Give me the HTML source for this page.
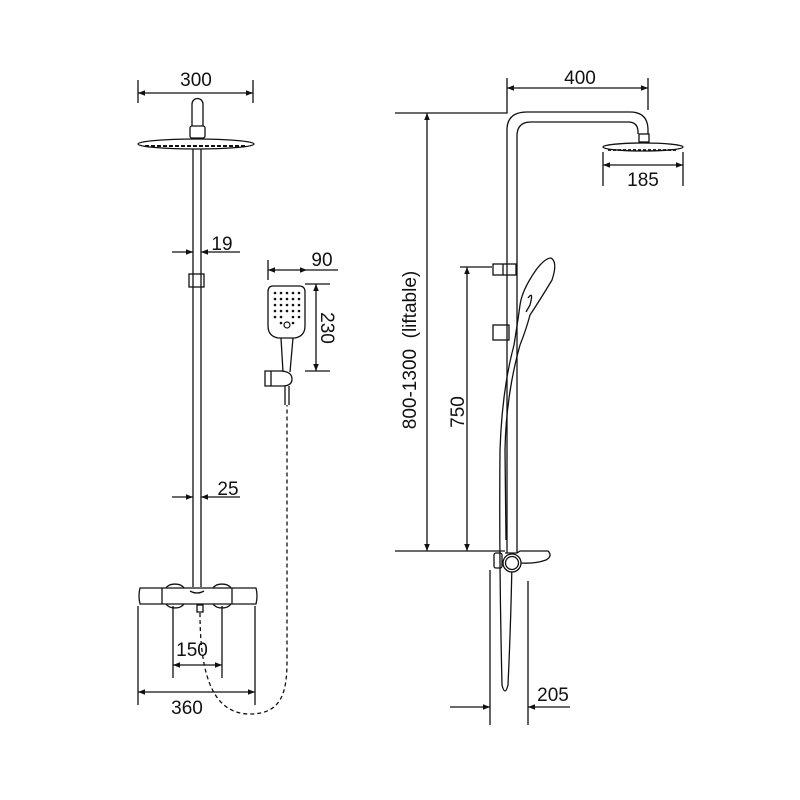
<!DOCTYPE html>
<html><head><meta charset="utf-8"><style>
html,body{margin:0;padding:0;background:#fff}
svg{display:block}
text{font-family:"Liberation Sans",sans-serif;font-size:19px;fill:#111}
</style></head><body>
<svg width="800" height="800" viewBox="0 0 800 800" xmlns="http://www.w3.org/2000/svg">
<defs>
<marker id="a" viewBox="0 0 10 10" refX="10" refY="5" markerWidth="9" markerHeight="7" orient="auto-start-reverse" markerUnits="userSpaceOnUse"><path d="M0,1 L10,5 L0,9 z" fill="#111"/></marker>
</defs>
<g stroke="#111" stroke-width="1.3" fill="none">
<line x1="138" y1="80" x2="138" y2="103"/><line x1="253" y1="80" x2="253" y2="103"/>
<line x1="138" y1="93" x2="253" y2="93" marker-start="url(#a)" marker-end="url(#a)"/>
<path d="M192,126 V104 a5,5 0 0 1 11,0 V126"/>
<rect x="190" y="126" width="15" height="12" rx="2"/>
<ellipse cx="196" cy="144" rx="58" ry="5" fill="#fff"/>
<line x1="145" y1="146" x2="247" y2="146" stroke-dasharray="4,2" stroke-width="2"/>
<line x1="193" y1="149" x2="193" y2="587"/><line x1="201" y1="149" x2="201" y2="587"/>
<line x1="172" y1="252" x2="193" y2="252" marker-end="url(#a)"/>
<line x1="240" y1="252" x2="201" y2="252" marker-end="url(#a)"/>
<rect x="189" y="274" width="15" height="13"/>
<line x1="172" y1="497" x2="193" y2="497" marker-end="url(#a)"/>
<line x1="240" y1="497" x2="201" y2="497" marker-end="url(#a)"/>
<path d="M140,588 H256 Q258,596 256,604 H140 Q138,596 140,588 Z"/>
<line x1="162" y1="588" x2="162" y2="604"/><line x1="232" y1="588" x2="232" y2="604"/>
<path d="M166,588 a10,7 0 0 1 18,0 M166,604 a10,7 0 0 0 18,0 M213,588 a10,7 0 0 1 18,0 M213,604 a10,7 0 0 0 18,0"/>
<path d="M190,591 q7,4 14,0"/>
<rect x="197" y="605" width="6" height="7"/>
<line x1="138" y1="606" x2="138" y2="705"/><line x1="255" y1="606" x2="255" y2="705"/>
<line x1="173" y1="606" x2="173" y2="678"/><line x1="222" y1="606" x2="222" y2="678"/>
<line x1="173" y1="665" x2="222" y2="665" marker-start="url(#a)" marker-end="url(#a)"/>
<line x1="138" y1="692" x2="255" y2="692" marker-start="url(#a)" marker-end="url(#a)"/>
<path d="M200,613 C200,680 215,714 250,714 C283,714 287,690 287,660 V405" stroke-dasharray="4,3"/>
<line x1="268" y1="260" x2="268" y2="280"/>
<line x1="268" y1="270" x2="307" y2="270" marker-start="url(#a)" marker-end="url(#a)"/>
<line x1="307" y1="270" x2="338" y2="270"/>
<path d="M273,286 H299 Q305,286 305,292 V326 Q305,336 295,338 H278 Q268,336 268,326 V292 Q268,286 273,286 Z"/>
<path d="M281,338 L283,372 M293,338 L290,372"/>
<path d="M265,371 H282 Q292,372 292,379 Q292,386 282,386 H265 Z"/><line x1="271" y1="371" x2="271" y2="386"/>
<line x1="285" y1="386" x2="285" y2="405"/><line x1="289" y1="386" x2="289" y2="405"/>
<line x1="305" y1="284" x2="330" y2="284"/><line x1="305" y1="371" x2="330" y2="371"/>
<line x1="316" y1="284" x2="316" y2="371" marker-start="url(#a)" marker-end="url(#a)"/>
<path d="M395,113 H507 V78"/><line x1="395" y1="551" x2="505" y2="551"/>
<line x1="427" y1="113" x2="427" y2="551" marker-start="url(#a)" marker-end="url(#a)"/>
<line x1="460" y1="267" x2="492" y2="267"/>
<line x1="467" y1="267" x2="467" y2="551" marker-start="url(#a)" marker-end="url(#a)"/>
<line x1="648" y1="78" x2="648" y2="110"/>
<line x1="507" y1="88" x2="648" y2="88" marker-start="url(#a)" marker-end="url(#a)"/>
<path d="M507,553 V130 Q507,112 527,112 H630 Q648,112 648,130 V134"/>
<path d="M517,553 V136 Q517,122 531,122 H628 Q638,122 638,132 V134"/>
<rect x="639" y="134" width="10" height="8"/>
<ellipse cx="643" cy="147" rx="40" ry="4" fill="#fff"/>
<line x1="608" y1="150" x2="678" y2="150" stroke-dasharray="3,2" stroke-width="1.8"/>
<line x1="603" y1="152" x2="603" y2="186"/><line x1="683" y1="152" x2="683" y2="186"/>
<line x1="603" y1="165" x2="683" y2="165" marker-start="url(#a)" marker-end="url(#a)"/>
<rect x="493" y="264" width="23" height="11"/><line x1="503" y1="264" x2="503" y2="275"/>
<rect x="493" y="325" width="16" height="15"/>
<path d="M551,258 Q558,262 552,280 Q540,300 530,315 Q526,330 520,345 M551,258 Q545,258 536,270 Q522,290 520,305 Q518,320 514,345"/>
<path d="M528,298 Q534,290 530,305 L526,312"/>
<path d="M514,345 Q502,390 500,450 Q499,560 502,685 Q505,697 508,685 Q511,620 512,560 M520,345 Q506,395 505,450 L506,540"/>
<path d="M505,553 L517,553 L520,551 H548 Q553,556 546,560 Q535,564 520,563"/>
<circle cx="512" cy="563" r="9" fill="#fff"/><circle cx="512" cy="563" r="6.5"/>
<rect x="494" y="553" width="8" height="15" rx="2"/>
<line x1="490" y1="570" x2="490" y2="725"/><line x1="528" y1="581" x2="528" y2="725"/>
<line x1="450" y1="707" x2="490" y2="707" marker-end="url(#a)"/>
<line x1="570" y1="707" x2="528" y2="707" marker-end="url(#a)"/>
</g>
<g fill="#111" stroke="none">
<circle cx="275" cy="293" r="1.3"/><circle cx="281" cy="293" r="1.3"/><circle cx="287" cy="293" r="1.3"/><circle cx="293" cy="293" r="1.3"/><circle cx="299" cy="293" r="1.3"/>
<circle cx="275" cy="299" r="1.3"/><circle cx="281" cy="299" r="1.3"/><circle cx="287" cy="299" r="1.3"/><circle cx="293" cy="299" r="1.3"/><circle cx="299" cy="299" r="1.3"/>
<circle cx="275" cy="305" r="1.3"/><circle cx="281" cy="305" r="1.3"/><circle cx="287" cy="305" r="1.3"/><circle cx="293" cy="305" r="1.3"/><circle cx="299" cy="305" r="1.3"/>
<circle cx="275" cy="311" r="1.3"/><circle cx="281" cy="311" r="1.3"/><circle cx="287" cy="311" r="1.3"/><circle cx="293" cy="311" r="1.3"/><circle cx="299" cy="311" r="1.3"/>
<circle cx="275" cy="317" r="1.3"/><circle cx="281" cy="317" r="1.3"/><circle cx="293" cy="317" r="1.3"/><circle cx="299" cy="317" r="1.3"/>
<circle cx="281" cy="323" r="1.3"/><circle cx="293" cy="323" r="1.3"/>
</g>
<circle cx="287" cy="325" r="3" fill="none" stroke="#111" stroke-width="1.2"/>
<text x="196" y="86" text-anchor="middle">300</text>
<text x="222" y="250" text-anchor="middle">19</text>
<text x="228" y="495" text-anchor="middle">25</text>
<text x="192" y="656" text-anchor="middle">150</text>
<text x="187" y="714" text-anchor="middle">360</text>
<text x="322" y="266" text-anchor="middle">90</text>
<text transform="translate(321,328) rotate(90)" text-anchor="middle">230</text>
<text x="580" y="84" text-anchor="middle">400</text>
<text x="643" y="186" text-anchor="middle">185</text>
<text transform="translate(416,350) rotate(-90)" text-anchor="middle" xml:space="preserve">800-1300  (liftable)</text>
<text transform="translate(464,412) rotate(-90)" text-anchor="middle">750</text>
<text x="553" y="701" text-anchor="middle">205</text>
</svg>
</body></html>
